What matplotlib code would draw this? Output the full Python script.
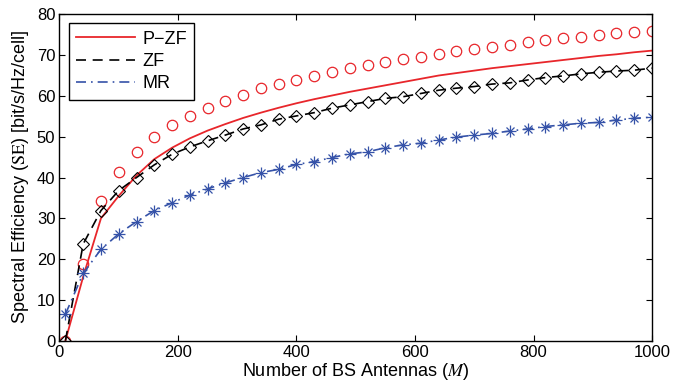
import numpy as np
import matplotlib
matplotlib.use("Agg")
import matplotlib.pyplot as plt
from matplotlib.lines import Line2D

plt.rcParams['font.family'] = ['Liberation Sans', 'DejaVu Sans']
plt.rcParams['mathtext.fontset'] = 'stix'

# Number of BS antennas (sample points)
M = [10, 40, 70, 100, 130, 160, 190, 220, 250, 280, 310, 340, 370, 400, 430, 460, 490,
     520, 550, 580, 610, 640, 670, 700, 730, 760, 790, 820, 850, 880, 910, 940, 970, 1000]

# P-ZF line
pzf_line = [0.0, 15.7, 30.0, 35.5, 40.5, 44.5, 47.3, 49.6, 51.5, 53.1, 54.6, 55.9, 57.1,
            58.2, 59.2, 60.1, 61.0, 61.8, 62.6, 63.4, 64.2, 65.0, 65.6, 66.2, 66.8, 67.3,
            67.8, 68.3, 68.8, 69.3, 69.8, 70.2, 70.7, 71.1]
# P-ZF markers (circles)
pzf_marks = [0.0, 18.8, 34.3, 41.4, 46.3, 50.0, 52.9, 55.1, 57.0, 58.8, 60.2, 61.9, 62.8,
             63.9, 64.9, 65.8, 66.8, 67.6, 68.4, 69.0, 69.6, 70.3, 70.9, 71.5, 72.1, 72.6,
             73.3, 73.7, 74.1, 74.5, 75.0, 75.5, 75.7, 76.0]
# ZF
zf = [0.0, 23.7, 31.9, 36.8, 40.0, 43.1, 45.7, 47.5, 49.0, 50.4, 51.9, 52.9, 54.3, 55.1,
      55.9, 57.0, 57.8, 58.6, 59.4, 59.8, 60.6, 61.4, 61.9, 62.3, 62.9, 63.2, 63.9, 64.5,
      64.9, 65.4, 65.8, 66.1, 66.3, 66.8]
# MR
mr = [6.5, 16.5, 22.4, 26.2, 29.2, 31.9, 33.8, 35.7, 37.2, 38.7, 40.0, 41.2, 42.0, 43.2,
      43.9, 44.9, 45.8, 46.3, 47.3, 48.0, 48.4, 49.2, 49.9, 50.4, 50.8, 51.4, 51.9, 52.5,
      52.9, 53.3, 53.5, 54.1, 54.5, 54.8]

red = '#e8262b'
blue = '#3552a8'

fig = plt.figure(figsize=(6.73, 3.9), dpi=100)
ax = fig.add_axes([0.0884, 0.1264, 0.8804, 0.8369])

ax.plot(M, pzf_line, color=red, lw=1.3)
ax.plot(M, pzf_marks, 'o', color=red, mfc='none', ms=7.5, mew=0.9)
ax.plot(M, zf, color='k', ls=(0, (6, 4)), lw=1.2)
ax.plot(M, zf, 'D', color='k', mfc='none', ms=6.5, mew=0.8)
ax.plot(M, mr, color=blue, ls=(0, (6, 3, 1, 3)), lw=1.2)
ax.plot(M, mr, '+', color=blue, ms=8, mew=0.9)
ax.plot(M, mr, 'x', color=blue, ms=6, mew=0.9)

ax.set_xlim(0, 1000)
ax.set_ylim(0, 80)
ax.set_xticks(np.arange(0, 1001, 200))
ax.set_yticks(np.arange(0, 81, 10))
ax.tick_params(direction='in', top=True, right=True, labelsize=12, length=4, pad=3)
for s in ax.spines.values():
    s.set_linewidth(1.0)

ax.set_xlabel(r'Number of BS Antennas ($M$)', fontsize=13, labelpad=1)
ax.set_ylabel(r'Spectral Efficiency ($\mathrm{SE}$) [bit/s/Hz/cell]', fontsize=13, labelpad=4)

handles = [Line2D([], [], color=red, lw=1.3),
           Line2D([], [], color='k', ls=(0, (6, 4)), lw=1.2),
           Line2D([], [], color=blue, ls=(0, (6, 3, 1, 3)), lw=1.2)]
leg = ax.legend(handles, ['P\u2212ZF', 'ZF', 'MR'], loc='upper left', fontsize=13,
                fancybox=False, framealpha=1, edgecolor='k', handlelength=3.3,
                borderaxespad=0.5, labelspacing=0.3, handletextpad=0.4, borderpad=0.4)
leg.get_frame().set_linewidth(1.0)

fig.savefig('out.png', dpi=100)
